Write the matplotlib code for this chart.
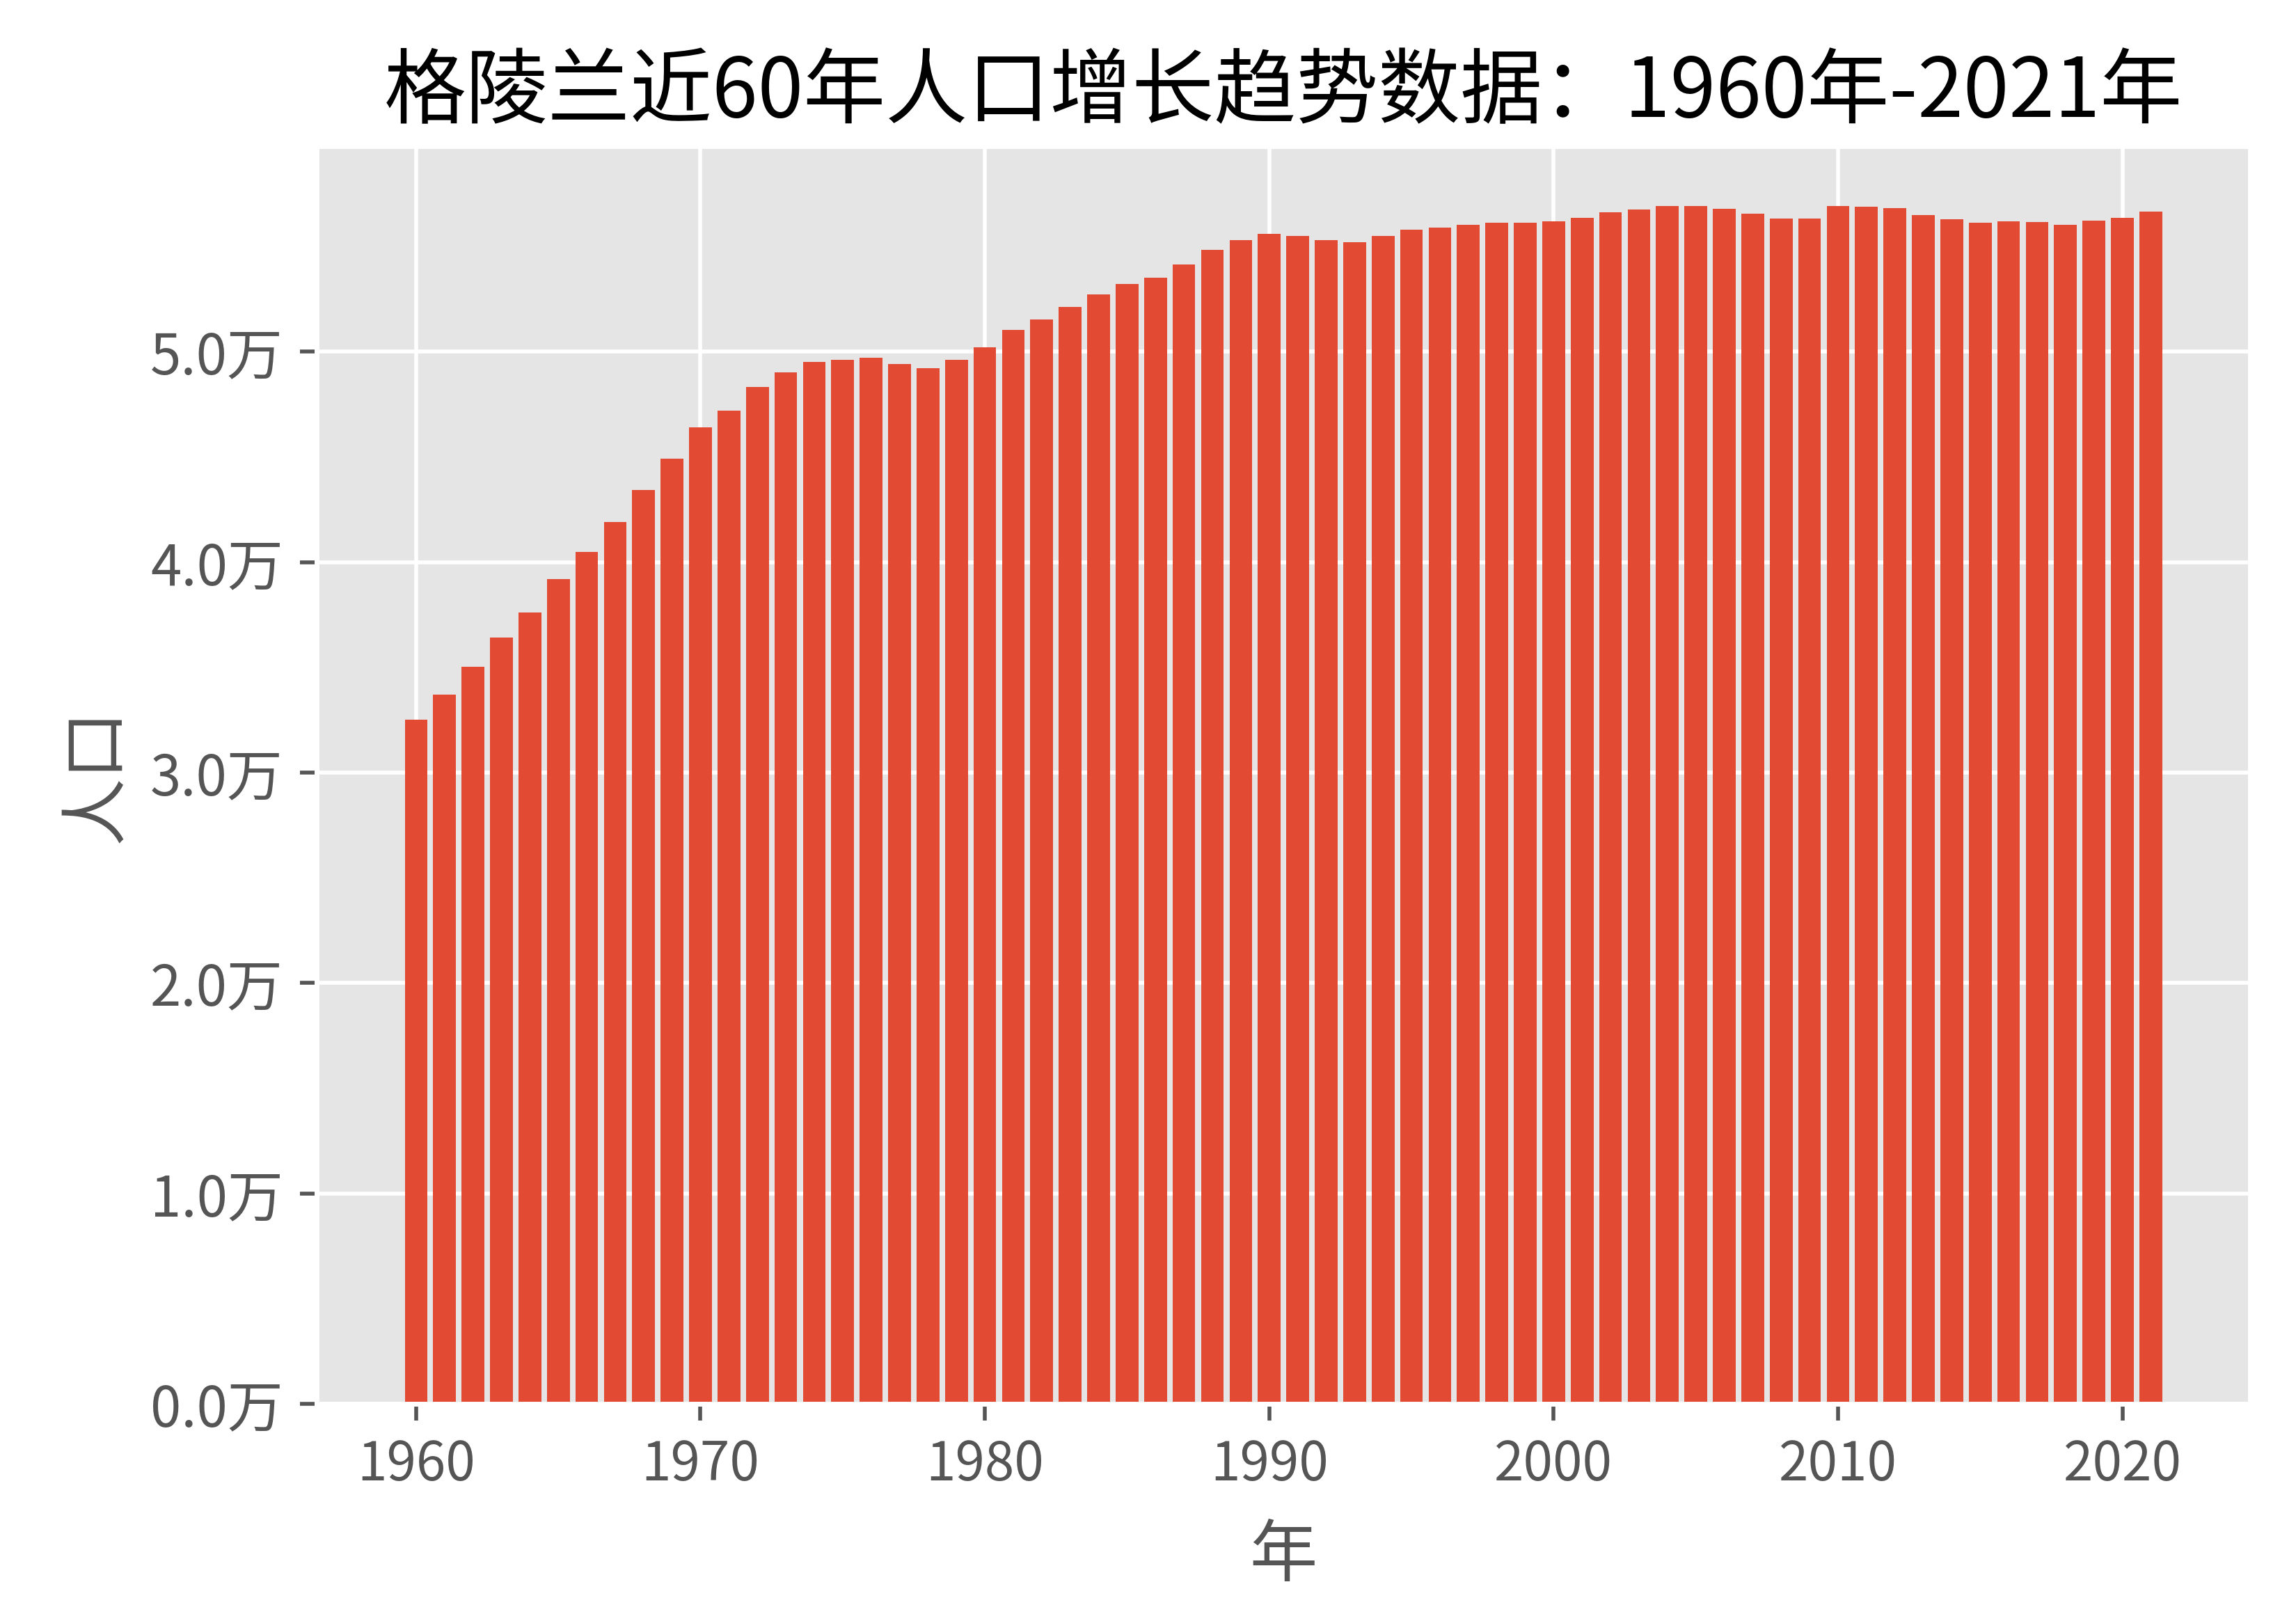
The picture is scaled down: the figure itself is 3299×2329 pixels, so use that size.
import matplotlib
matplotlib.use("Agg")
import matplotlib.pyplot as plt
from matplotlib.ticker import FuncFormatter

years = list(range(1960, 2022))
population = [
    32520, 33710, 35020, 36400, 37590, 39200, 40490, 41910, 43410, 44920,
    46400, 47200, 48310, 49020, 49510, 49600, 49700, 49410, 49200, 49600,
    50190, 51020, 51520, 52110, 52710, 53200, 53500, 54130, 54820, 55310,
    55610, 55510, 55310, 55210, 55510, 55810, 55910, 56010, 56110, 56110,
    56200, 56370, 56630, 56770, 56930, 56930, 56800, 56570, 56340, 56340,
    56930, 56900, 56830, 56500, 56300, 56140, 56200, 56170, 56040, 56240,
    56370, 56670,
]
title = "格陵兰近60年人口增长趋势数据：1960年-2021年"
xlabel = "年"
ylabel = "人口"

plt.style.use("ggplot")
plt.rcParams['font.family'] = ['Noto Sans CJK SC', 'DejaVu Sans']
plt.rcParams['axes.unicode_minus'] = False

fig = plt.figure(figsize=(6.598, 4.658), dpi=500)
ax = fig.add_axes([0.138, 0.134, 0.842, 0.776])
ax.bar(years, population, width=0.8, color="#E24A33")
ax.yaxis.set_major_formatter(FuncFormatter(lambda v, p: f"{v/10000:.1f}万"))
ax.set_yticks([0, 10000, 20000, 30000, 40000, 50000])
ax.set_title(title, fontsize=17, color="black", fontweight="medium")
ax.set_xlabel(xlabel, fontsize=14, labelpad=6)
ax.set_ylabel(ylabel, fontsize=14)
ax.tick_params(axis="x", labelsize=11)
ax.tick_params(axis="y", labelsize=11.5)
fig.savefig("out.png", dpi=500)
